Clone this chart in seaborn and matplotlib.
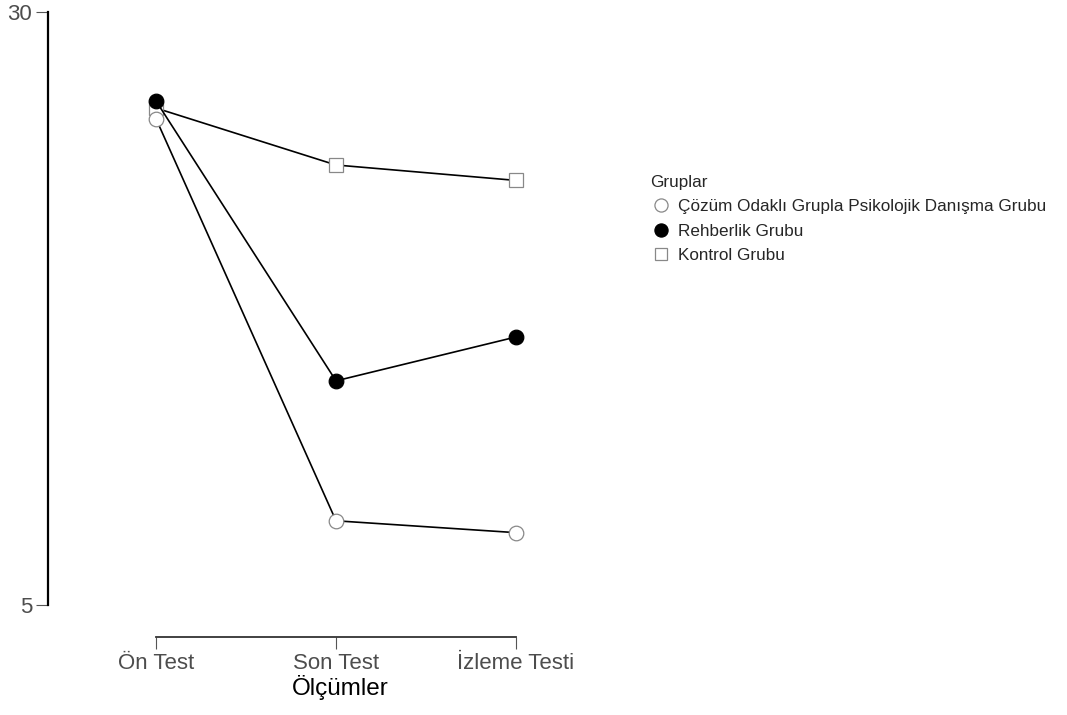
import matplotlib
matplotlib.use('Agg')
import pandas as pd
import matplotlib.pyplot as plt
import seaborn as sns
from matplotlib.lines import Line2D

sns.set_style('white')
plt.rcParams['font.family'] = ['Liberation Sans', 'DejaVu Sans']

# 数据
olcumler = ['Ön Test', 'Son Test', 'İzleme Testi']
gruplar = ['Çözüm Odaklı Grupla Psikolojik Danışma Grubu', 'Rehberlik Grubu', 'Kontrol Grubu']
cozum = [25.5, 8.55, 8.05]
rehberlik = [26.25, 14.45, 16.3]
kontrol = [25.95, 23.55, 22.9]

df = pd.DataFrame({
    'Ölçümler': olcumler * 3,
    'Puan': cozum + rehberlik + kontrol,
    'Grup': [g for g in gruplar for _ in olcumler],
})

# 标记样式
stil = {
    'Çözüm Odaklı Grupla Psikolojik Danışma Grubu': dict(marker='o', mfc='white', mec='#888888', ms=10.5),
    'Rehberlik Grubu': dict(marker='o', mfc='black', mec='black', ms=10.5),
    'Kontrol Grubu': dict(marker='s', mfc='white', mec='#888888', ms=9.5),
}
ciz_sira = ['Kontrol Grubu', 'Çözüm Odaklı Grupla Psikolojik Danışma Grubu', 'Rehberlik Grubu']

fig = plt.figure(figsize=(10.67, 7.15), dpi=100)
ax = fig.add_axes([48 / 1067, 110 / 715, 584 / 1067, 593 / 715])

for g in ciz_sira:
    s = stil[g]
    sns.lineplot(data=df[df['Grup'] == g], x='Ölçümler', y='Puan', ax=ax,
                 color='black', linewidth=1.2, marker=s['marker'],
                 markerfacecolor=s['mfc'], markeredgecolor=s['mec'],
                 markersize=s['ms'], markeredgewidth=0.9, legend=False)

ax.set_xlim(-0.6, 2 + 116 / 180)
ax.set_ylim(5, 30)
ax.set_yticks([5, 30])
ax.set_xticks(range(len(olcumler)))
ax.set_xticklabels(olcumler)
ax.set_ylabel('')
ax.set_xlabel('Ölçümler', fontsize=17.5, color='black', labelpad=1)

for k in ['top', 'right']:
    ax.spines[k].set_visible(False)
ax.spines['left'].set_bounds(5, 30)
ax.spines['left'].set_linewidth(1.6)
ax.spines['left'].set_color('black')
ax.spines['bottom'].set_bounds(0, 2)
ax.spines['bottom'].set_position(('outward', 23))
ax.spines['bottom'].set_linewidth(1.3)
ax.spines['bottom'].set_color('#333333')
ax.tick_params(axis='both', which='both', direction='out', length=8.5, width=0.8,
               color='#555555', labelsize=16, labelcolor='#4d4d4d', pad=3)
ax.tick_params(axis='x', bottom=True)
ax.tick_params(axis='y', left=True)

# 图例
handles = [Line2D([], [], linestyle='none', marker=stil[g]['marker'],
                  markerfacecolor=stil[g]['mfc'], markeredgecolor=stil[g]['mec'],
                  markersize=stil[g]['ms'] * 0.9, markeredgewidth=0.9) for g in gruplar]
leg = fig.legend(handles, gruplar, title='Gruplar', loc='upper left',
                 bbox_to_anchor=(643 / 1067, 1 - 168 / 715), frameon=False,
                 fontsize=12.3, title_fontsize=12.3, handletextpad=0.35,
                 handlelength=1.3, labelspacing=0.55, borderaxespad=0)
leg._legend_box.align = 'left'

fig.savefig('out.png', dpi=100)
